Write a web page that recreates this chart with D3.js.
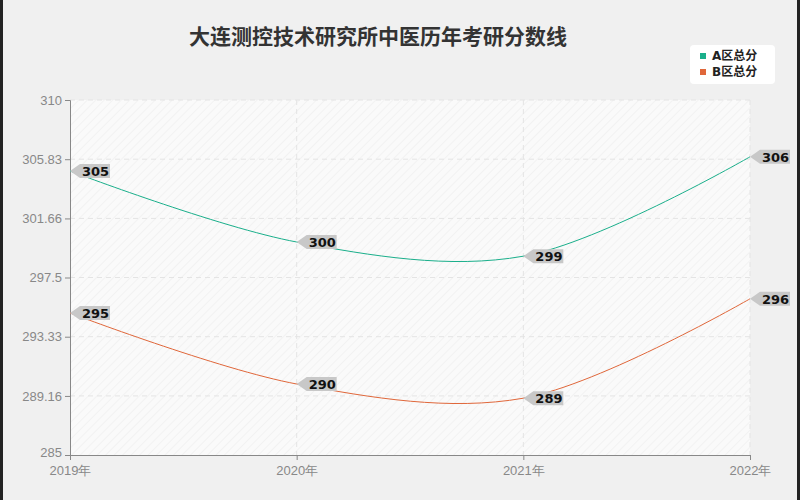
<!DOCTYPE html>
<html><head><meta charset="utf-8">
<script src="https://cdn.jsdelivr.net/npm/d3@7"></script>
<style>body{margin:0;background:#f0f0f0}svg{font-family:"DejaVu Sans","Noto Sans CJK SC",sans-serif}</style>
</head><body><svg id="c" width="800" height="500"></svg>
<script>
const years = ['2019年', '2020年', '2021年', '2022年'];
const seriesA = [305, 300, 299, 306];
const seriesB = [295, 290, 289, 296];
const yTicks = [285, 289.16, 293.33, 297.5, 301.66, 305.83, 310];
const seriesNames = ['A区总分', 'B区总分'];
const colors = ['#1aaf8b', '#e0673a'];

const svg = d3.select('#c');
const m = { l: 70, r: 750, t: 100, b: 455 };

svg.append('rect').attr('width', 800).attr('height', 500).attr('fill', '#f0f0f0');
svg.append('rect').attr('x', 0).attr('y', 0).attr('width', 3).attr('height', 500).attr('fill', '#222');
svg.append('rect').attr('x', 797).attr('y', 0).attr('width', 3).attr('height', 500).attr('fill', '#222');

const defs = svg.append('defs');
const pat = defs.append('pattern').attr('id', 'hatch').attr('width', 6).attr('height', 6)
  .attr('patternUnits', 'userSpaceOnUse').attr('patternTransform', 'rotate(45)');
pat.append('rect').attr('width', 6).attr('height', 6).attr('fill', '#fafafa');
pat.append('line').attr('x1', 0).attr('y1', 0).attr('x2', 0).attr('y2', 6).attr('stroke', '#f0f0f0').attr('stroke-width', 1.5);

const x = d3.scalePoint().domain(years).range([m.l, m.r]);
const y = d3.scaleLinear().domain([285, 310]).range([m.b, m.t]);

svg.append('rect').attr('x', m.l).attr('y', m.t).attr('width', m.r - m.l).attr('height', m.b - m.t).attr('fill', 'url(#hatch)');

// grid
svg.append('g').selectAll('line').data(yTicks.slice(1)).join('line')
  .attr('x1', m.l).attr('x2', m.r).attr('y1', d => y(d)).attr('y2', d => y(d))
  .attr('stroke', '#e4e4e4').attr('stroke-dasharray', '5,4');
svg.append('g').selectAll('line').data(years.slice(1)).join('line')
  .attr('x1', d => x(d)).attr('x2', d => x(d)).attr('y1', m.t).attr('y2', m.b)
  .attr('stroke', '#e4e4e4').attr('stroke-dasharray', '5,4');

const yAxis = svg.append('g').attr('transform', `translate(${m.l},0)`)
  .call(d3.axisLeft(y).tickValues(yTicks).tickFormat(d => d).tickSize(5));
const xAxis = svg.append('g').attr('transform', `translate(0,${m.b})`)
  .call(d3.axisBottom(x).tickSize(5));
[yAxis, xAxis].forEach(a => {
  a.select('.domain').attr('stroke', '#888');
  a.selectAll('.tick line').attr('stroke', '#888');
  a.selectAll('text').attr('fill', '#888').attr('font-size', 13).attr('font-family', null);
});
xAxis.selectAll('text').attr('dy', '0.9em');
yAxis.selectAll('.tick').filter(d => d === 285).select('text').attr('dy', '0.1em');

const line = d3.line().x((d, i) => x(years[i])).y(d => y(d)).curve(d3.curveCatmullRom.alpha(0.5));
[seriesA, seriesB].forEach((s, k) => {
  svg.append('path').datum(s).attr('d', line).attr('fill', 'none').attr('stroke', colors[k]).attr('stroke-width', 1);
  const g = svg.append('g').selectAll('g').data(s).join('g')
    .attr('transform', (d, i) => `translate(${x(years[i])},${y(d)})`);
  g.append('path').attr('d', 'M0,0 L10,-7 L40,-7 L40,7 L10,7 Z').attr('fill', '#c8c8c8');
  g.append('text').attr('x', 12).attr('y', 5).attr('font-size', 13).attr('font-weight', 'bold')
    .attr('fill', '#111').text(d => d);
});

svg.append('text').attr('x', 378).attr('y', 44).attr('text-anchor', 'middle')
  .attr('font-size', 21).attr('font-weight', 'bold').attr('fill', '#333')
  .text('大连测控技术研究所中医历年考研分数线');

const lg = svg.append('g');
lg.append('rect').attr('x', 690).attr('y', 45).attr('width', 85).attr('height', 39).attr('rx', 4).attr('fill', '#fff');
seriesNames.forEach((n, i) => {
  lg.append('rect').attr('x', 700).attr('y', 53 + i * 16).attr('width', 6).attr('height', 6).attr('fill', colors[i]);
  lg.append('text').attr('x', 712).attr('y', 60 + i * 16).attr('font-size', 12).attr('font-weight', 'bold').attr('fill', '#222').text(n);
});
</script></body></html>
